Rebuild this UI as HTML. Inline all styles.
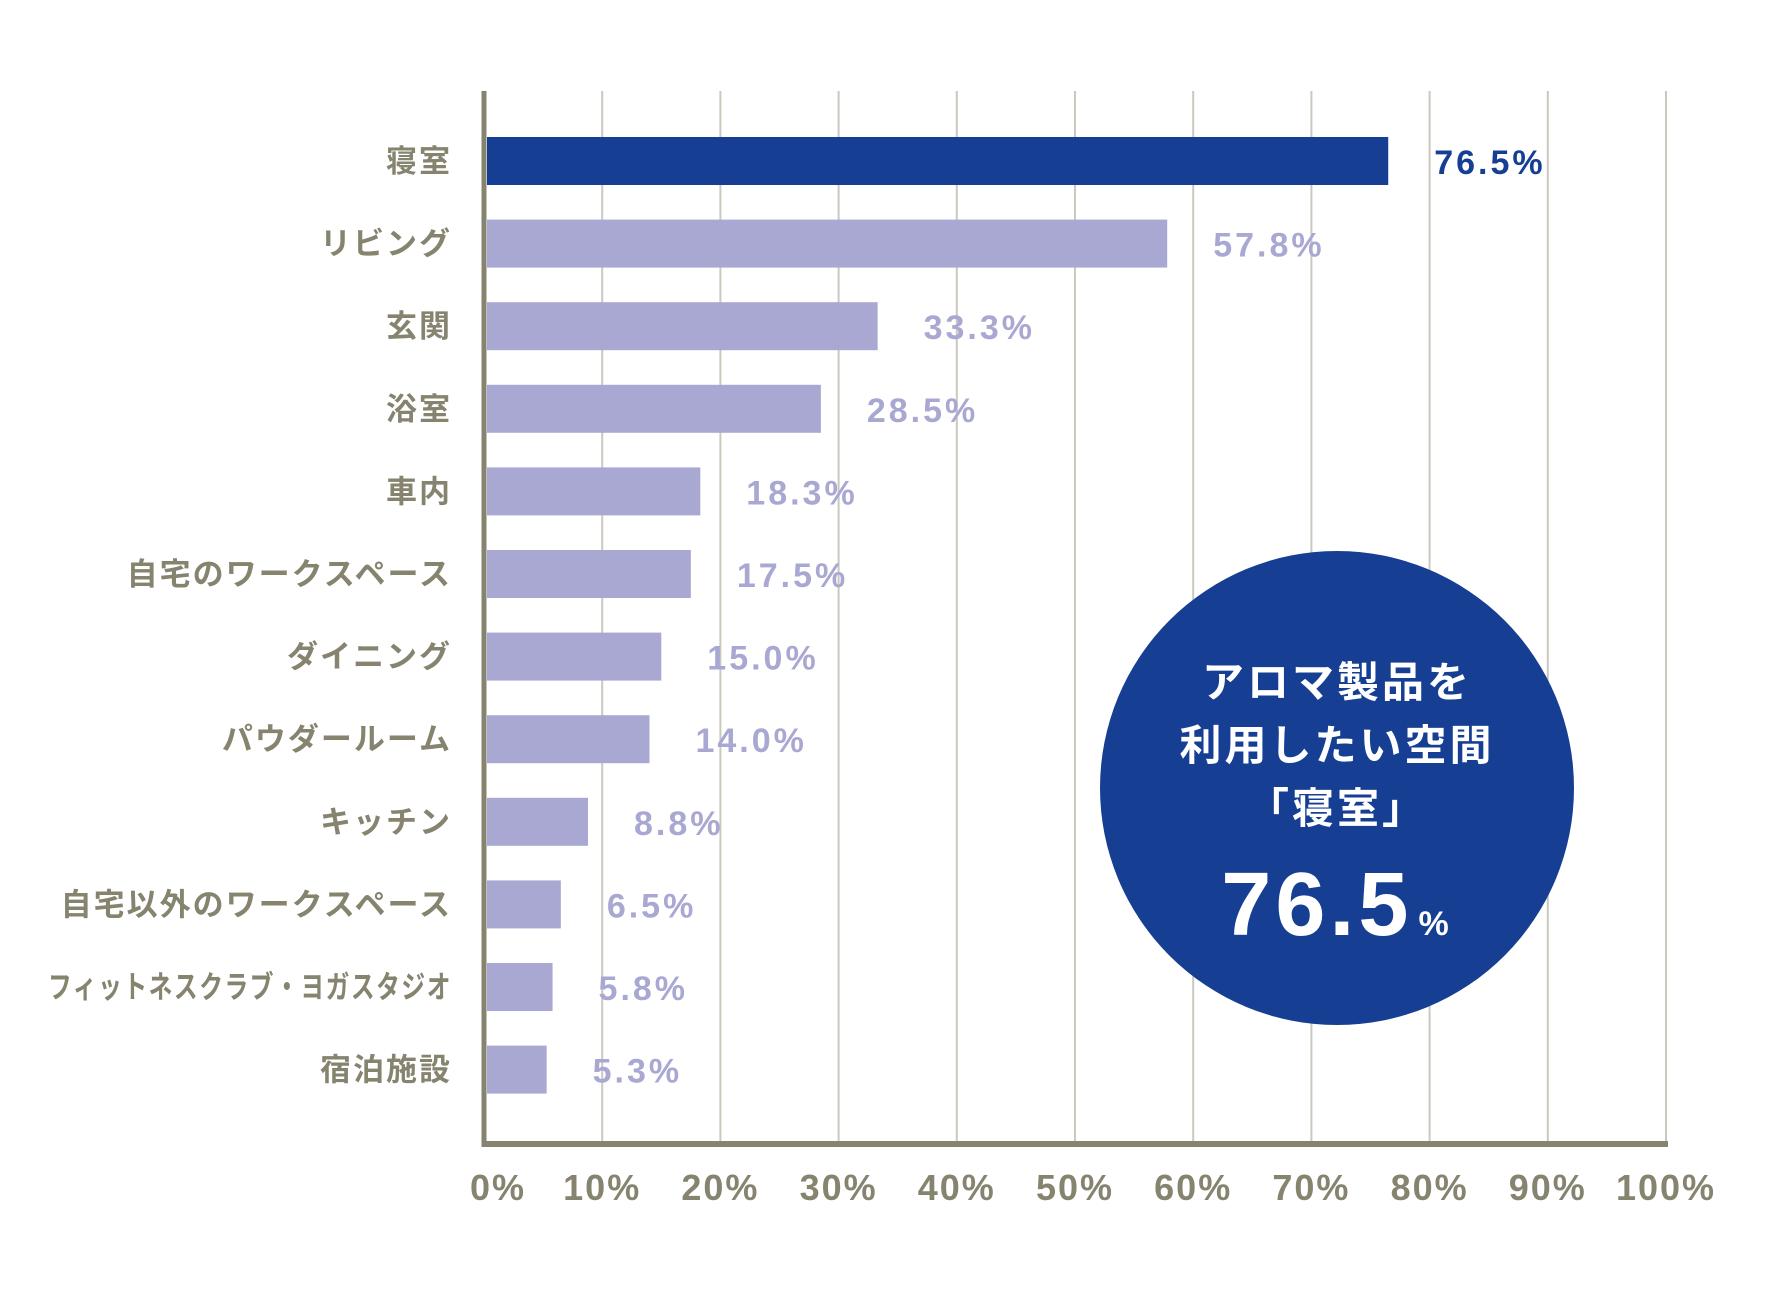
<!DOCTYPE html>
<html><head><meta charset="utf-8"><style>
html,body{margin:0;padding:0;background:#fff;}
svg{display:block;}
</style></head><body>
<svg id="chart" width="1772" height="1300" viewBox="0 0 1772 1300" xmlns="http://www.w3.org/2000/svg"></svg>
<script>
const categories = ["寝室","リビング","玄関","浴室","車内","自宅のワークスペース","ダイニング","パウダールーム","キッチン","自宅以外のワークスペース","フィットネスクラブ・ヨガスタジオ","宿泊施設"];
const values = [76.5,57.8,33.3,28.5,18.3,17.5,15.0,14.0,8.8,6.5,5.8,5.3];
const valueLabels = ["76.5%","57.8%","33.3%","28.5%","18.3%","17.5%","15.0%","14.0%","8.8%","6.5%","5.8%","5.3%"];
const ticks = [0,10,20,30,40,50,60,70,80,90,100];
const tickLabels = ["0%","10%","20%","30%","40%","50%","60%","70%","80%","90%","100%"];

const NS = "http://www.w3.org/2000/svg";
const svg = document.getElementById("chart");
const X0 = 484, X1 = 1666, YTOP = 91, YBOT = 1144;
const ROW0 = 161, ROWSTEP = 82.6, BARH = 48;
function xs(v){ return X0 + v/100*(X1-X0); }
function ys(i){ return ROW0 + i*ROWSTEP; }
function mk(tag, attrs, parent){
  const e = document.createElementNS(NS, tag);
  for (const k in attrs) e.setAttribute(k, attrs[k]);
  (parent||svg).appendChild(e);
  return e;
}
const font = '"Liberation Sans","Noto Sans CJK JP",sans-serif';
ticks.forEach((t,i)=>{
  if (t===0) return;
  const g = mk("line",{x1:xs(t),x2:xs(t),y1:YTOP,y2:YBOT,stroke:"#cac9be","stroke-width":2});
  
  
});
values.forEach((v,i)=>{
  const r = mk("rect",{x:X0+3,y:ys(i)-BARH/2,width:xs(v)-X0-3,height:BARH,fill:i===0?"#163f93":"#a8a8d2"});
  
  
  const t = mk("text",{x:xs(v)+46,y:ys(i)+13,fill:i===0?"#163f93":"#a8a8d2","font-size":34,"font-weight":"bold","letter-spacing":3,"font-family":font});
  t.textContent = valueLabels[i];
  
  
  const l = mk("text",{x:452,y:ys(i)+11,fill:"#86836f","font-size":31,"font-weight":"bold","text-anchor":"end","letter-spacing":2,"font-family":font});
  l.textContent = categories[i];
  if (categories[i].length > 12) { l.setAttribute("textLength", 404); l.setAttribute("lengthAdjust","spacingAndGlyphs"); }
  
  
});
const ya = mk("line",{x1:X0,x2:X0,y1:YTOP,y2:YBOT+3,stroke:"#86836f","stroke-width":5});


const xa = mk("line",{x1:X0-2.5,x2:X1+2,y1:YBOT,y2:YBOT,stroke:"#86836f","stroke-width":6});


ticks.forEach((t,i)=>{
  const tl = mk("text",{x:xs(t)+ (i===0?14:0),y:1200,fill:"#86836f","font-size":36,"font-weight":"bold","text-anchor":"middle","letter-spacing":2,"font-family":font});
  tl.textContent = tickLabels[i];
  
  
});
const g = mk("g",{});


const c = mk("circle",{cx:1337,cy:788,r:237,fill:"#163f93"},g);


[["アロマ製品を",697],["利用したい空間",760],["「寝室」",823]].forEach(([s,y])=>{
  const t = mk("text",{x:1337,y:y,fill:"#fff","font-size":42,"font-weight":"bold","text-anchor":"middle","letter-spacing":3,"font-family":font},g);
  t.textContent = s;
  
  
});
const big = mk("text",{x:1337,y:935,fill:"#fff","font-size":90,"font-weight":"bold","text-anchor":"middle","letter-spacing":4,"font-family":font},g);
big.textContent = "76.5";
const sp = mk("tspan",{"font-size":34,dx:6},big);
sp.textContent = "%";


</script>
</body></html>
